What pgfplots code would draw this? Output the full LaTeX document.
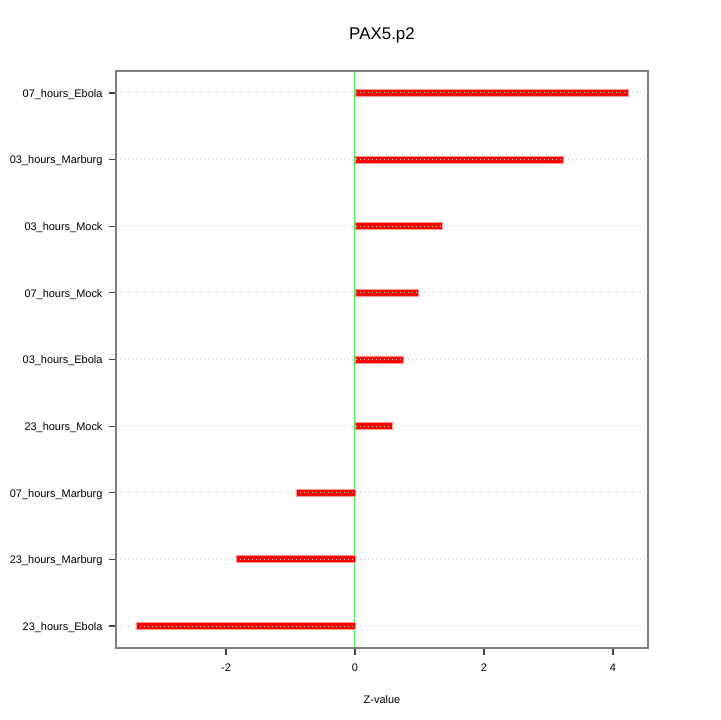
\documentclass[border=0pt]{standalone}
\usepackage{pgfplots}
\pgfplotsset{compat=1.18}
\usepackage{fontspec}
\setmainfont{Liberation Sans}
\definecolor{zeroline}{RGB}{80,240,80}
\definecolor{framegray}{RGB}{125,125,125}
\definecolor{tickgray}{RGB}{70,70,70}
\definecolor{barpink}{RGB}{255,150,150}
\definecolor{gridgray}{RGB}{205,205,205}

\pgfplotstableread{
y value
1 -3.395
2 -1.845
3 -0.915
4 0.574
5 0.744
6 0.977
7 1.349
8 3.225
9 4.233
}\zdata

\begin{document}
\begin{tikzpicture}[x=1bp,y=1bp]
\path[use as bounding box] (0,0) rectangle (720,720);
\begin{axis}[
  at={(116bp,72bp)}, anchor=south west,
  scale only axis, width=532bp, height=577bp,
  xmin=-3.705, xmax=4.543,
  ymin=0.67, ymax=9.33,
  xtick={-2,0,2,4},
  ytick={1,...,9},
  yticklabels={23\_hours\_Ebola,23\_hours\_Marburg,07\_hours\_Marburg,23\_hours\_Mock,03\_hours\_Ebola,07\_hours\_Mock,03\_hours\_Mock,03\_hours\_Marburg,07\_hours\_Ebola},
  tick align=outside,
  xtick pos=bottom, ytick pos=left,
  major tick length=7bp,
  tick style={tickgray, line width=1.2bp},
  axis line style={framegray, line width=1.5bp},
  ymajorgrids,
  grid style={dash pattern=on 1bp off 3bp, gridgray, line width=1bp},
  axis on top,
  /pgf/number format/assume math mode=true,
  tick label style={font=\fontsize{11}{13}\selectfont},
  xticklabel style={yshift=-5bp},
  yticklabel style={xshift=-3bp, yshift=-1.5bp},
  xlabel={Z-value},
  xlabel style={font=\fontsize{11}{13}\selectfont, yshift=-17bp},
  title={PAX5.p2},
  title style={font=\fontsize{17}{20}\selectfont, yshift=18bp},
  clip=false,
]
\draw[zeroline, line width=1bp] (axis cs:0,0.67) -- (axis cs:0,9.33);
\addplot[xbar, bar width=7bp, fill=red, draw=barpink, line width=0.8bp, bar shift=0pt] table[x=value, y=y] {\zdata};
\end{axis}
\end{tikzpicture}
\end{document}
